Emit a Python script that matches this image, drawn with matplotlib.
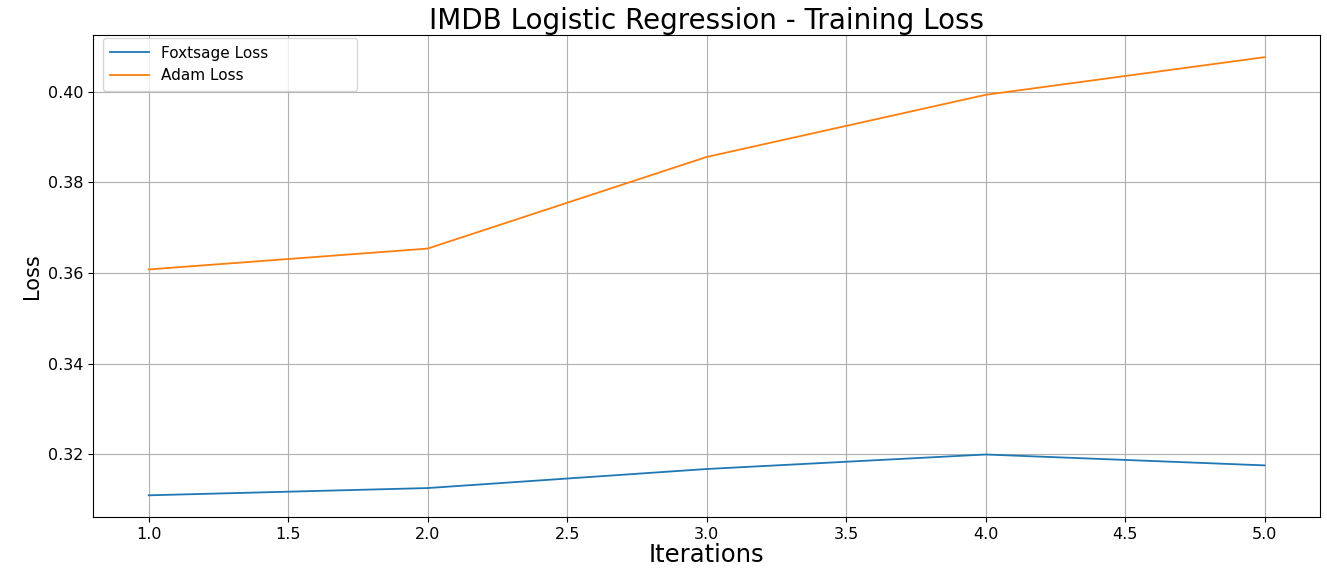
import matplotlib
matplotlib.use("Agg")
import matplotlib.pyplot as plt

iterations = [1, 2, 3, 4, 5]
foxtsage_loss = [0.3110, 0.3126, 0.3168, 0.3200, 0.3176]
adam_loss = [0.3608, 0.3654, 0.3856, 0.3993, 0.4076]

fig = plt.figure(figsize=(13.27, 5.69), dpi=100)
ax = fig.add_axes([0.070, 0.091, 0.925, 0.847])

ax.plot(iterations, foxtsage_loss, label='Foxtsage Loss', color='#1f77b4', linewidth=1.3)
ax.plot(iterations, adam_loss, label='Adam Loss', color='#ff7f0e', linewidth=1.3)

ax.set_title('IMDB Logistic Regression - Training Loss', fontsize=20, pad=4)
ax.set_xlabel('Iterations', fontsize=17.5, labelpad=1)
ax.set_ylabel('Loss', fontsize=15)
ax.tick_params(labelsize=11.5)
ax.grid(True, color='#b0b0b0', linewidth=0.8)
ax.legend(loc='upper left', fontsize=11, handlelength=2.5, borderpad=0.5,
          bbox_to_anchor=(0.008, 0.994, 0.207, 0), mode='expand', borderaxespad=0)

fig.savefig('out.png', dpi=100)
